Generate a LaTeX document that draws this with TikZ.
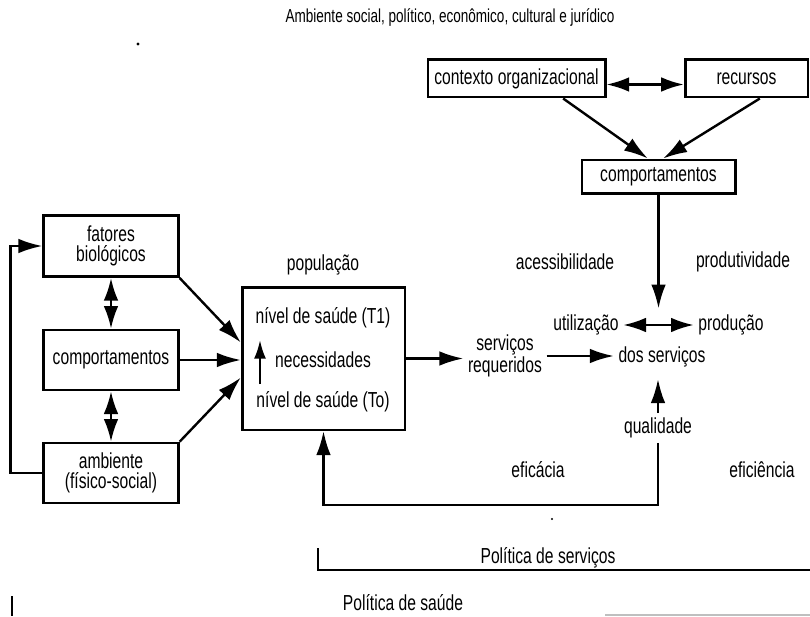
\documentclass[tikz,border=0pt]{standalone}
\usepackage{fontspec}
\setmainfont[FakeStretch=0.72]{Liberation Sans}
\usetikzlibrary{calc,arrows.meta,positioning}

\begin{document}
\begin{tikzpicture}[x=0.75pt,y=-0.75pt,
    txt/.style={font=\fontsize{16.3}{15}\selectfont, align=center},
    caixa/.style={txt, draw, line width=2pt, inner sep=0pt},
    seta/.style={line width=1.8pt, -{Latex[length=18pt,width=11pt]}},
    seta2/.style={line width=1.8pt, {Latex[length=17pt,width=11pt]}-{Latex[length=17pt,width=11pt]}}]
    \useasboundingbox (0,0) rectangle (810,617);
    %TITULO
    \node[txt, font=\fontsize{14.1}{14}\selectfont] (amb0) at (450,18) {Ambiente social, político, econômico, cultural e jurídico};
    %CAIXAS ESQUERDA
    \node[caixa, minimum width=101pt, minimum height=46pt] (fat) at (111,246) {fatores\\biológicos};
    \node[caixa, minimum width=101pt, minimum height=45pt] (comp) at (111,360) {comportamentos};
    \node[caixa, minimum width=101pt, minimum height=45pt] (amb) at (111,473) {ambiente\\(físico-social)};
    %POPULACAO
    \node[txt] (popl) at (323,265) {população};
    \node[caixa, minimum width=122pt, minimum height=107pt] (pop) at (323.5,358.5) {};
    \node[txt] (t1) at (323,318) {nível de saúde (T1)};
    \node[txt] (nec) at (323,360) {necessidades};
    \node[txt] (t0) at (323,402) {nível de saúde (To)};
    \coordinate (n0) at (260,384);
    \coordinate (n1) at (260,340);
    %SERVICOS
    \node[txt, font=\fontsize{16.3}{16.5}\selectfont] (req) at (505,356) {serviços\\requeridos};
    \node[txt] (dos) at (662,357) {dos serviços};
    \node[txt] (util) at (586,325) {utilização};
    \node[txt] (prod) at (731,325) {produção};
    \node[txt] (qual) at (658,428) {qualidade};
    \node[txt] (aces) at (565,262) {acessibilidade};
    \node[txt] (produt) at (743,262) {produtividade};
    \node[txt] (efic) at (538,470) {eficácia};
    \node[txt] (efin) at (762,470) {eficiência};
    %CAIXAS TOPO
    \node[caixa, minimum width=133pt, minimum height=28pt] (ctx) at (516.5,78.5) {contexto organizacional};
    \node[caixa, minimum width=92pt, minimum height=28pt] (rec) at (746.5,78.5) {recursos};
    \node[caixa, minimum width=115pt, minimum height=25pt] (comp2) at (658.5,176.5) {comportamentos};
    %POLITICAS
    \node[txt] (polserv) at (548,558) {Política de serviços};
    \node[txt] (polsaude) at (403,603) {Política de saúde};
    \draw[line width=1.5pt] (318,548) |- (810,570);
    \draw[gray!50, line width=0.8pt] (605,615) -- (810,615);
    \draw[line width=2pt] (12,596) -- (12,616);
    \fill (138,44) circle (1.6);
    \fill (552,519) circle (1.2);
    %SETAS
    \draw[seta] (fat.south east) -- ($(pop.west)+(0,-16)$);
    \draw[seta] (comp.east) -- (comp.east -| pop.west);
    \draw[seta] (amb.north east) -- ($(pop.west)+(0,19)$);
    \draw[seta2] (fat.south) -- (comp.north);
    \draw[seta2] (comp.south) -- (amb.north);
    \draw[seta] (amb.west) -- ++(-32,0) |- (fat.west);
    \draw[seta, -{Latex[length=14pt,width=9pt]}] (n0) -- (n1);
    \draw[seta] (pop.east) -- (pop.east -| req.west);
    \draw[seta] (req.east) -- (req.east -| dos.west);
    \draw[seta2] (util.east) -- (prod.west);
    \draw[seta] (comp2.south) -- ++(0,114);
    \draw[seta] (qual.north) -- ++(0,-34);
    \draw[seta] (qual.south) -- ++(0,62) -| (pop.south);
    \draw[seta2] ([yshift=-4.5pt]ctx.east) -- ([yshift=-4.5pt]rec.west);
    \draw[seta] ([xshift=35pt]ctx.south) -- ([xshift=-8pt]comp2.north);
    \draw[seta] ([xshift=10pt]rec.south) -- ([xshift=3.5pt]comp2.north);
\end{tikzpicture}
\end{document}
